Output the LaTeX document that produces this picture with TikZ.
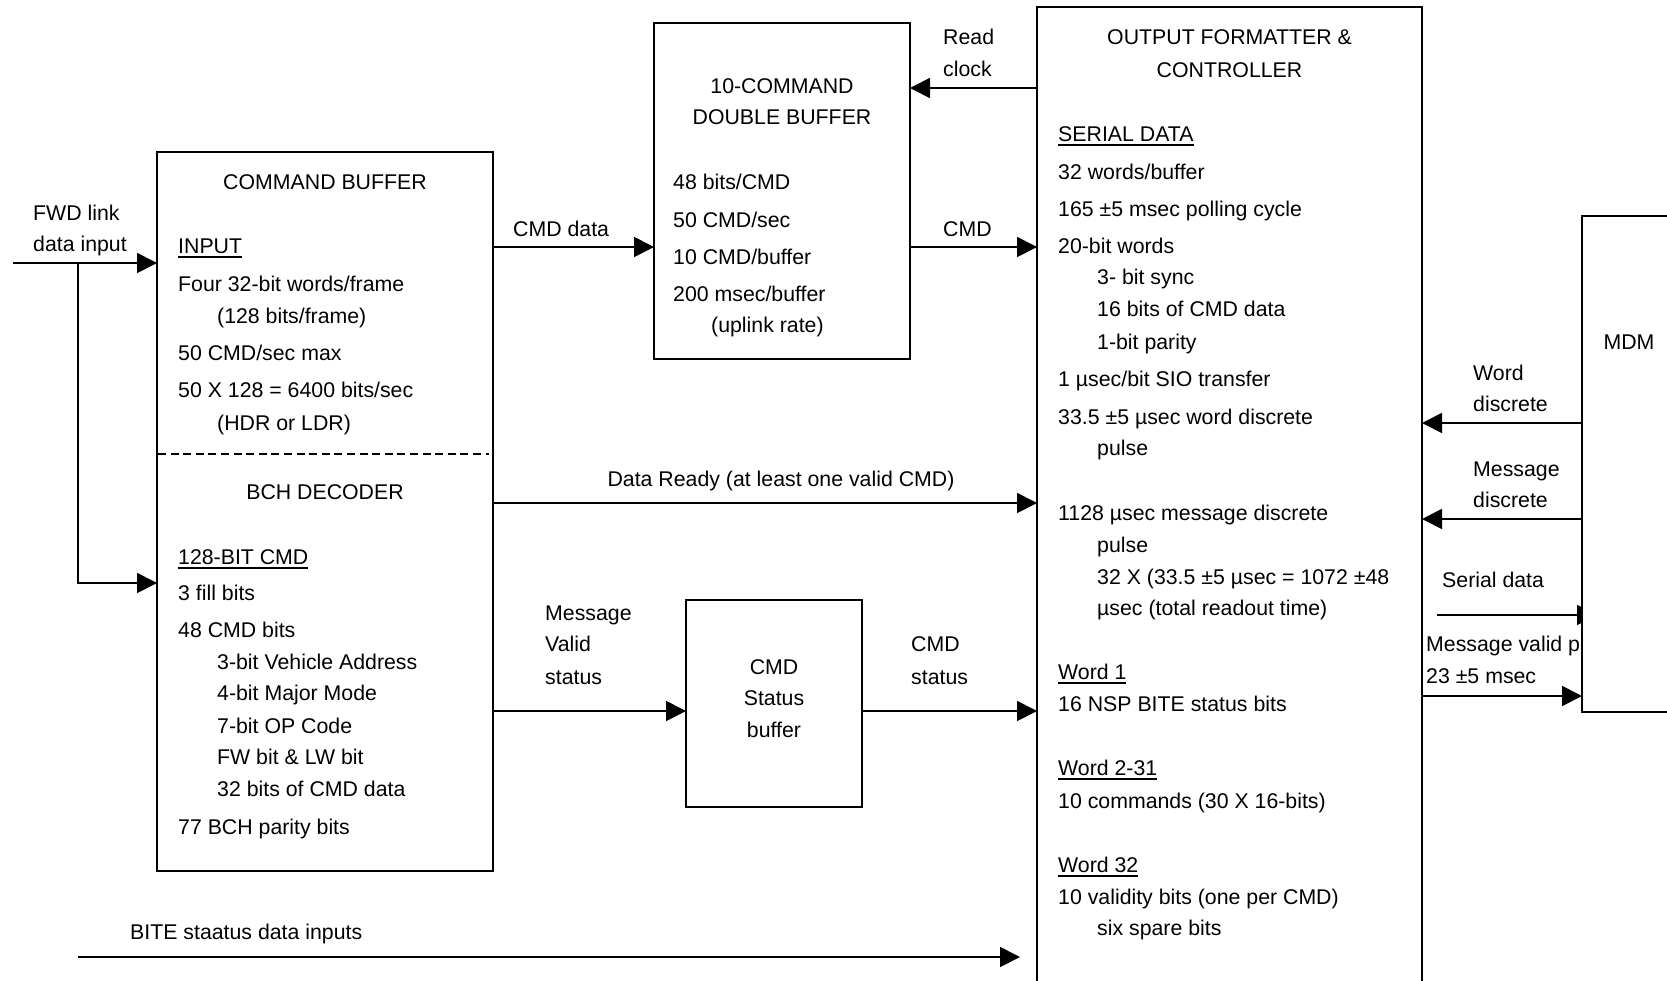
\documentclass[tikz,border=0pt]{standalone}
\usepackage{fontspec}
\setmainfont{Liberation Sans}
\usetikzlibrary{arrows.meta}
\newcommand\fsz{\fontsize{21.3}{25}\selectfont}
\newcommand\myul[1]{\setbox0\hbox{#1}\rlap{\rule[-4pt]{\wd0}{1.6pt}}\box0}
\tikzset{
  box/.style={draw=black, line width=1.8pt, rectangle, inner sep=0pt, outer sep=0pt, anchor=north west, fill=white},
  txt/.style={anchor=base west, inner sep=0pt, font=\fsz},
  ctxt/.style={anchor=base, inner sep=0pt, font=\fsz},
  arr/.style={line width=1.8pt, -{Triangle[length=20pt,width=20pt]}},
  plain/.style={line width=1.8pt},
}
\begin{document}
\begin{tikzpicture}[x=1pt,y=-1pt]
\useasboundingbox (0,0) rectangle (1667,980);
\fill[white] (0,0) rectangle (1667,980);
\begin{scope}
\clip (0,0) rectangle (1667,980);

% boxes
\node[box, minimum width=336pt, minimum height=719pt] (cb) at (157,152) {};
\node[box, minimum width=256pt, minimum height=336pt] (db) at (654,23) {};
\node[box, minimum width=176pt, minimum height=207pt] (csb) at (686,600) {};
\node[box, minimum width=385pt, minimum height=990pt] (of) at (1037,7) {};

% dashed separator
\coordinate (dsl) at (158,454);
\coordinate (dsr) at (489,454);
\draw[line width=1.5pt, dash pattern=on 8pt off 4.6pt] (dsl) -- (dsr);

% command buffer text
\node[ctxt] (cbh) at (325,189.5) {COMMAND BUFFER};
\node[txt] (cb1) at (178,253.5) {\myul{INPUT}};
\node[txt] (cb2) at (178,291.5) {Four 32-bit words/frame};
\node[txt] (cb3) at (217,323.5) {(128 bits/frame)};
\node[txt] (cb4) at (178,360.5) {50 CMD/sec max};
\node[txt] (cb5) at (178,397.5) {50 X 128 = 6400 bits/sec};
\node[txt] (cb6) at (217,430.5) {(HDR or LDR)};
\node[ctxt] (bchh) at (325,499.5) {BCH DECODER};
\node[txt] (bc1) at (178,564.5) {\myul{128-BIT CMD}};
\node[txt] (bc2) at (178,600.5) {3 fill bits};
\node[txt] (bc3) at (178,637.5) {48 CMD bits};
\node[txt] (bc4) at (217,669.5) {3-bit Vehicle Address};
\node[txt] (bc5) at (217,700.5) {4-bit Major Mode};
\node[txt] (bc6) at (217,733.5) {7-bit OP Code};
\node[txt] (bc7) at (217,764.5) {FW bit \& LW bit};
\node[txt] (bc8) at (217,796.5) {32 bits of CMD data};
\node[txt] (bc9) at (178,834.5) {77 BCH parity bits};

% double buffer text
\node[ctxt] (dbh1) at (782,93.5) {10-COMMAND};
\node[ctxt] (dbh2) at (782,124.5) {DOUBLE BUFFER};
\node[txt] (db1) at (673,189.5) {48 bits/CMD};
\node[txt] (db2) at (673,227.5) {50 CMD/sec};
\node[txt] (db3) at (673,264.5) {10 CMD/buffer};
\node[txt] (db4) at (673,301.5) {200 msec/buffer};
\node[txt] (db5) at (711,332.5) {(uplink rate)};

% cmd status buffer text
\node[ctxt] (cs1) at (774,674.5) {CMD};
\node[ctxt] (cs2) at (774,705.5) {Status};
\node[ctxt] (cs3) at (774,737.5) {buffer};

% output formatter text
\node[ctxt] (ofh1) at (1229.5,44.5) {OUTPUT FORMATTER \&};
\node[ctxt] (ofh2) at (1229.5,77.5) {CONTROLLER};
\node[txt] (of1) at (1058,141.5) {\myul{SERIAL DATA}};
\node[txt] (of2) at (1058,179.5) {32 words/buffer};
\node[txt] (of3) at (1058,216.5) {165 ±5 msec polling cycle};
\node[txt] (of4) at (1058,253.5) {20-bit words};
\node[txt] (of5) at (1097,284.5) {3- bit sync};
\node[txt] (of6) at (1097,316.5) {16 bits of CMD data};
\node[txt] (of7) at (1097,349.5) {1-bit parity};
\node[txt] (of8) at (1058,386.5) {1 µsec/bit SIO transfer};
\node[txt] (of9) at (1058,424.5) {33.5 ±5 µsec word discrete};
\node[txt] (of10) at (1097,455.5) {pulse};
\node[txt] (of11) at (1058,520.5) {1128 µsec message discrete};
\node[txt] (of12) at (1097,552.5) {pulse};
\node[txt] (of13) at (1097,584.5) {32 X (33.5 ±5 µsec = 1072 ±48};
\node[txt] (of14) at (1097,615.5) {µsec (total readout time)};
\node[txt] (of15) at (1058,679.5) {\myul{Word 1}};
\node[txt] (of16) at (1058,711.5) {16 NSP BITE status bits};
\node[txt] (of17) at (1058,775.5) {\myul{Word 2-31}};
\node[txt] (of18) at (1058,808.5) {10 commands (30 X 16-bits)};
\node[txt] (of19) at (1058,872.5) {\myul{Word 32}};
\node[txt] (of20) at (1058,904.5) {10 validity bits (one per CMD)};
\node[txt] (of21) at (1097,935.5) {six spare bits};

% items hidden behind MDM box (drawn before it)
\coordinate (sdin) at (1437,615);
\coordinate (sdend) at (1597,615);
\draw[arr] (sdin) -- (sdend);
\node[txt] (mvp) at (1426,651.5) {Message valid pulse};

% MDM box
\node[box, minimum width=120pt, minimum height=496pt] (mdm) at (1582,216) {};
\node[ctxt] (mdmt) at (1629,349.5) {MDM};

% left input
\coordinate (fwdin) at (13,263);
\coordinate (fwdbr) at (78,263);
\draw[arr] (fwdin) -- (cb.west |- fwdin);
\draw[arr] (fwdbr) |- (cb.west |- 0,583);
\node[txt] (fwd1) at (33,220.5) {FWD link};
\node[txt] (fwd2) at (33,251.5) {data input};

% connectors
\draw[arr] (cb.east |- 0,247) -- (db.west |- 0,247);
\node[txt] (lcmdd) at (513,236.5) {CMD data};
\draw[arr] (db.east |- 0,247) -- (of.west |- 0,247);
\node[txt] (lcmd) at (943,236.5) {CMD};
\draw[arr] (of.west |- 0,88) -- (db.east |- 0,88);
\node[txt] (lrc1) at (943,44.5) {Read};
\node[txt] (lrc2) at (943,76.5) {clock};
\draw[arr] (cb.east |- 0,503) -- (of.west |- 0,503);
\node[ctxt] (ldr) at (781,486.5) {Data Ready (at least one valid CMD)};
\draw[arr] (cb.east |- 0,711) -- (csb.west |- 0,711);
\node[txt] (lmv1) at (545,620.5) {Message};
\node[txt] (lmv2) at (545,651.5) {Valid};
\node[txt] (lmv3) at (545,684.5) {status};
\draw[arr] (csb.east |- 0,711) -- (of.west |- 0,711);
\node[txt] (lcs1) at (911,651.5) {CMD};
\node[txt] (lcs2) at (911,684.5) {status};

% BITE
\coordinate (bitein) at (78,957);
\coordinate (biteend) at (1020,957);
\draw[arr] (bitein) -- (biteend);
\node[txt] (lbite) at (130,939.5) {BITE staatus data inputs};

% MDM side
\draw[arr] (mdm.west |- 0,423) -- (of.east |- 0,423);
\node[txt] (lwd1) at (1473,380.5) {Word};
\node[txt] (lwd2) at (1473,411.5) {discrete};
\draw[arr] (mdm.west |- 0,519) -- (of.east |- 0,519);
\node[txt] (lmd1) at (1473,476.5) {Message};
\node[txt] (lmd2) at (1473,507.5) {discrete};
\node[txt] (lsd) at (1442,587.5) {Serial data};
\node[txt] (lmvt) at (1426,683.5) {23 ±5 msec};
\draw[arr] (of.east |- 0,696) -- (mdm.west |- 0,696);
\end{scope}
\end{tikzpicture}
\end{document}
